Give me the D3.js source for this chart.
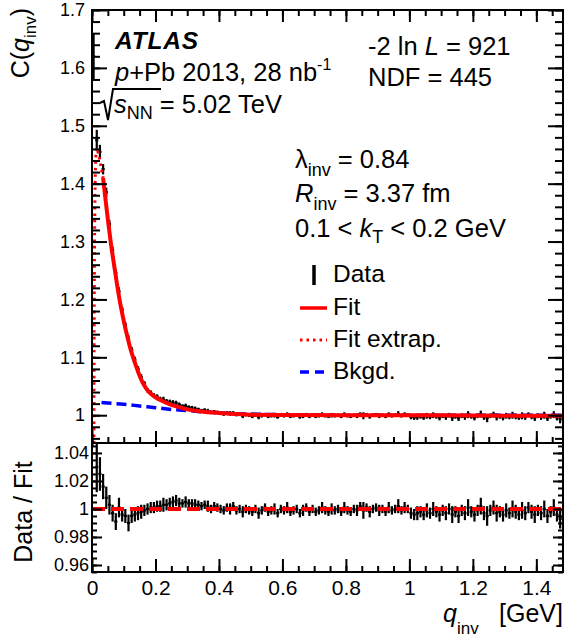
<!DOCTYPE html>
<html>
<head>
<meta charset="utf-8">
<script src="https://cdn.jsdelivr.net/npm/d3@7.9.0/dist/d3.min.js"></script>
<style>
  body { margin: 0; background: #fff; }
  text { font-family: "Liberation Sans", Arial, Helvetica, sans-serif; fill: #000; }
</style>
</head>
<body>
<svg id="chart" width="565" height="639"></svg>
<script>
// --- data (bins of 0.01 GeV starting at q = 0) ---
const binWidth = 0.01;
const nBins = 149;

// correlation function C(q_inv), one value per bin
const cData = [
  1.620,1.475,1.455,1.425,1.385,1.330,1.285,1.246,1.214,1.182,
  1.156,1.132,1.113,1.096,1.080,1.066,1.055,1.043,1.039,1.034,
  1.032,1.028,1.027,1.024,1.023,1.022,1.021,1.018,1.016,1.016,
  1.014,1.013,1.011,1.010,1.008,1.009,1.007,1.005,1.006,1.005,
  1.004,1.002,1.004,1.003,1.004,1.001,1.002,0.999,1.001,1.000,
  0.998,1.000,0.997,0.999,1.001,0.998,0.999,1.000,0.997,1.000,
  0.999,1.001,0.998,0.999,1.000,0.997,0.999,1.001,0.998,1.000,
  0.998,0.999,1.001,0.999,0.998,1.000,0.999,1.000,0.998,1.001,
  0.999,0.998,1.000,0.999,1.002,0.999,1.001,0.998,1.000,1.001,
  0.999,1.000,0.998,1.001,0.999,1.000,1.002,0.999,1.001,1.000,
  0.997,0.996,0.997,0.998,0.996,0.999,0.997,1.000,0.998,0.996,
  0.999,0.997,1.000,0.996,0.998,0.995,0.999,0.997,1.001,0.998,
  0.996,0.999,1.002,0.997,0.995,0.999,1.001,0.997,0.998,0.996,
  0.999,0.997,1.000,0.998,0.996,0.999,0.997,1.001,0.998,0.996,
  0.999,0.997,1.000,0.995,0.998,1.001,0.996,0.993,0.998
];

// Data / Fit ratio, same bins (first bin not shown)
const ratioData = [
  null, 1.030,1.025,1.016,1.008,1.003,0.997,0.991,1.001,0.996,
  0.995,0.990,0.995,0.996,0.997,0.998,0.999,1.000,1.001,1.001,
  1.002,1.002,1.003,1.003,1.004,1.005,1.006,1.004,1.004,1.005,
  1.004,1.004,1.003,1.003,1.002,1.003,1.002,1.000,1.002,1.001,
  1.000,0.999,1.001,1.000,1.002,0.999,1.000,0.998,1.000,0.999,
  0.998,1.000,0.997,0.999,1.001,0.998,0.999,1.000,0.997,1.000,
  0.999,1.001,0.998,0.999,1.000,0.997,0.999,1.001,0.998,1.000,
  0.998,0.999,1.001,0.999,0.998,1.000,0.999,1.000,0.998,1.001,
  0.999,0.998,1.000,0.999,1.002,0.999,1.001,0.998,1.000,1.001,
  0.999,1.000,0.998,1.001,0.999,1.000,1.002,0.999,1.001,1.000,
  0.997,0.996,0.997,0.998,0.996,0.999,0.997,1.000,0.998,0.996,
  0.999,0.997,1.000,0.996,0.998,0.995,0.999,0.997,1.001,0.998,
  0.996,0.999,1.002,0.997,0.995,0.999,1.001,0.997,0.998,0.996,
  0.999,0.997,1.000,0.998,0.996,0.999,0.997,1.001,0.998,0.996,
  0.999,0.997,1.000,0.995,0.998,1.001,0.996,0.993,0.998
];

// statistical errors per bin
const errData = [
  0.040,0.018,0.012,0.009,0.008,0.007,0.006,0.006,0.007,0.005,
  0.005,0.006,0.005,0.005,0.005,0.005,0.004,0.004,0.004,0.004,
  0.004,0.004,0.005,0.004,0.004,0.004,0.004,0.004,0.003,0.004,
  0.003,0.003,0.004,0.003,0.003,0.003,0.004,0.003,0.003,0.003,
  0.003,0.003,0.003,0.004,0.003,0.003,0.003,0.004,0.003,0.003,
  0.003,0.003,0.004,0.003,0.003,0.003,0.003,0.004,0.003,0.003,
  0.003,0.004,0.003,0.003,0.003,0.003,0.004,0.003,0.003,0.003,
  0.003,0.003,0.004,0.003,0.003,0.004,0.003,0.003,0.003,0.004,
  0.003,0.003,0.003,0.004,0.003,0.006,0.003,0.004,0.003,0.003,
  0.004,0.003,0.003,0.004,0.003,0.003,0.005,0.003,0.004,0.003,
  0.004,0.004,0.005,0.004,0.004,0.005,0.004,0.005,0.004,0.005,
  0.004,0.005,0.004,0.006,0.004,0.005,0.004,0.005,0.006,0.004,
  0.005,0.004,0.006,0.005,0.007,0.004,0.005,0.006,0.004,0.005,
  0.005,0.004,0.006,0.005,0.004,0.006,0.005,0.004,0.005,0.006,
  0.004,0.005,0.006,0.005,0.004,0.006,0.005,0.007,0.005
];

// fit curve (solid), fit extrapolation (dotted), background (dashed)
const fitQ = [0.035,0.04,0.05,0.06,0.07,0.08,0.09,0.10,0.11,0.12,0.13,0.14,0.15,0.16,0.17,0.18,0.20,0.22,0.25,0.28,0.30,0.35,0.40,0.45,0.50,0.60,0.80,1.00,1.20,1.485];
const fitC = [1.410,1.385,1.338,1.295,1.258,1.222,1.190,1.163,1.139,1.117,1.099,1.083,1.068,1.056,1.047,1.040,1.031,1.025,1.018,1.013,1.010,1.006,1.004,1.002,1.001,1.0005,1.000,1.000,0.9995,0.999];
const extrapQ = [0.0060,0.0065,0.0075,0.009,0.011,0.013,0.016,0.020,0.025,0.030,0.035];
const extrapC = [0.940,1.100,1.250,1.360,1.430,1.455,1.462,1.452,1.440,1.425,1.410];
const bkgQ = [0.03,0.05,0.10,0.15,0.20,0.25,0.30,0.40,0.50,0.60,0.80,1.00,1.20,1.485];
const bkgC = [1.022,1.021,1.019,1.016,1.013,1.010,1.008,1.004,1.002,1.001,1.000,1.000,1.000,1.000];

// tick labels
const xTicks = [0,0.2,0.4,0.6,0.8,1,1.2,1.4];
const yTopTicks = [1,1.1,1.2,1.3,1.4,1.5,1.6,1.7];
const yBotTicks = [0.96,0.98,1,1.02,1.04];

// --- layout ---
const svg = d3.select("#chart");
const pLeft = 92, pRight = 563, pTop = 10, pMid = 443, pBottom = 572;
const textSize = 25.5, subSize = 18;

const x = d3.scaleLinear().domain([0, 1.484]).range([pLeft, pRight]);
const yTop = d3.scaleLinear().domain([0.952, 1.7]).range([pMid, pTop]);
const yBot = d3.scaleLinear().domain([0.955, 1.0471]).range([pBottom, pMid]);

const defs = svg.append("defs");
defs.append("clipPath").attr("id", "clipTop").append("rect")
    .attr("x", pLeft).attr("y", pTop).attr("width", pRight - pLeft).attr("height", pMid - pTop);
defs.append("clipPath").attr("id", "clipBot").append("rect")
    .attr("x", pLeft).attr("y", pMid).attr("width", pRight - pLeft).attr("height", pBottom - pMid);

const bins = d3.range(nBins).map(i => ({
    lo: i * binWidth, hi: (i + 1) * binWidth, mid: (i + 0.5) * binWidth,
    c: cData[i], r: ratioData[i], e: errData[i]
}));

function drawPoints(g, yScale, key) {
    const pts = bins.filter(d => d[key] != null);
    g.selectAll("line.h").data(pts).join("line").attr("class", "h")
        .attr("x1", d => x(d.lo)).attr("x2", d => x(d.hi))
        .attr("y1", d => yScale(d[key])).attr("y2", d => yScale(d[key]))
        .attr("stroke", "#000").attr("stroke-width", 2.2);
    g.selectAll("line.v").data(pts).join("line").attr("class", "v")
        .attr("x1", d => x(d.mid)).attr("x2", d => x(d.mid))
        .attr("y1", d => yScale(d[key] - d.e)).attr("y2", d => yScale(d[key] + d.e))
        .attr("stroke", "#000").attr("stroke-width", 2.2);
}

// top panel
const gTop = svg.append("g").attr("clip-path", "url(#clipTop)");
drawPoints(gTop.append("g"), yTop, "c");

const lineTop = (qs, cs) => d3.line().curve(d3.curveMonotoneX)
    .x(i => x(qs[i])).y(i => yTop(cs[i]))(d3.range(qs.length));

gTop.append("path").attr("d", lineTop(bkgQ, bkgC))
    .attr("fill", "none").attr("stroke", "#0000ff").attr("stroke-width", 3.5)
    .attr("stroke-dasharray", "10,5");
gTop.append("path").attr("d", lineTop(fitQ, fitC))
    .attr("fill", "none").attr("stroke", "#ff0000").attr("stroke-width", 4);
gTop.append("path").attr("d", lineTop(extrapQ, extrapC))
    .attr("fill", "none").attr("stroke", "#ff0000").attr("stroke-width", 3)
    .attr("stroke-dasharray", "2.5,4");

// bottom panel
const gBot = svg.append("g").attr("clip-path", "url(#clipBot)");
drawPoints(gBot.append("g"), yBot, "r");
gBot.append("line")
    .attr("x1", x(0)).attr("x2", x(1.484)).attr("y1", yBot(1)).attr("y2", yBot(1))
    .attr("stroke", "#ff0000").attr("stroke-width", 4).attr("stroke-dasharray", "13,6");

// --- axes: inward ticks on all four sides ---
const xMinor = d3.range(0, 1.5, 0.05);
const yTopMinor = d3.range(0.96, 1.701, 0.02);
const yBotMinor = d3.range(0.955, 1.046, 0.005);

function addAxis(axis, tx, ty) {
    const g = svg.append("g").attr("transform", `translate(${tx},${ty})`).call(axis);
    g.select(".domain").remove();
    g.selectAll(".tick line").attr("stroke-width", 2);
    return g;
}
const noLab = () => "";

// top panel
addAxis(d3.axisLeft(yTop).tickValues(yTopTicks).tickSize(-15).tickPadding(7).tickFormat(d3.format("")), pLeft, 0)
    .selectAll("text").attr("font-size", 18);
addAxis(d3.axisLeft(yTop).tickValues(yTopMinor).tickSize(-8).tickFormat(noLab), pLeft, 0);
addAxis(d3.axisRight(yTop).tickValues(yTopTicks).tickSize(-15).tickFormat(noLab), pRight, 0);
addAxis(d3.axisRight(yTop).tickValues(yTopMinor).tickSize(-8).tickFormat(noLab), pRight, 0);
addAxis(d3.axisTop(x).tickValues(xTicks).tickSize(-12).tickFormat(noLab), 0, pTop);
addAxis(d3.axisTop(x).tickValues(xMinor).tickSize(-6).tickFormat(noLab), 0, pTop);
addAxis(d3.axisBottom(x).tickValues(xTicks).tickSize(-12).tickFormat(noLab), 0, pMid);
addAxis(d3.axisBottom(x).tickValues(xMinor).tickSize(-6).tickFormat(noLab), 0, pMid);

// bottom panel
addAxis(d3.axisLeft(yBot).tickValues(yBotTicks).tickSize(-10).tickPadding(3).tickFormat(d3.format("")), pLeft, 0)
    .selectAll("text").attr("font-size", 18);
addAxis(d3.axisLeft(yBot).tickValues(yBotMinor).tickSize(-5).tickFormat(noLab), pLeft, 0);
addAxis(d3.axisRight(yBot).tickValues(yBotTicks).tickSize(-10).tickFormat(noLab), pRight, 0);
addAxis(d3.axisRight(yBot).tickValues(yBotMinor).tickSize(-5).tickFormat(noLab), pRight, 0);
addAxis(d3.axisBottom(x).tickValues(xTicks).tickSize(-13).tickPadding(8).tickFormat(d3.format("")), 0, pBottom)
    .selectAll("text").attr("font-size", 21);
addAxis(d3.axisBottom(x).tickValues(xMinor).tickSize(-6).tickFormat(noLab), 0, pBottom);
addAxis(d3.axisTop(x).tickValues(xTicks).tickSize(-4).tickFormat(noLab), 0, pMid);

// frames
svg.append("rect").attr("x", pLeft).attr("y", pTop).attr("width", pRight - pLeft).attr("height", pMid - pTop)
    .attr("fill", "none").attr("stroke", "#000").attr("stroke-width", 2);
svg.append("rect").attr("x", pLeft).attr("y", pMid).attr("width", pRight - pLeft).attr("height", pBottom - pMid)
    .attr("fill", "none").attr("stroke", "#000").attr("stroke-width", 2);

// --- axis titles ---
const yt = svg.append("text").attr("font-size", 25).attr("text-anchor", "end")
    .attr("transform", "translate(29,8) rotate(-90)");
yt.append("tspan").text("C(");
yt.append("tspan").attr("font-style", "italic").text("q");
yt.append("tspan").attr("font-size", 17).attr("dy", 7).text("inv");
yt.append("tspan").attr("dy", -7).text(")");

svg.append("text").attr("font-size", 25).attr("text-anchor", "middle")
    .attr("transform", "translate(32,512) rotate(-90)").text("Data / Fit");

const xt = svg.append("text").attr("font-size", 25).attr("x", 443).attr("y", 622);
xt.append("tspan").attr("font-style", "italic").text("q");
xt.append("tspan").attr("font-size", 17).attr("dy", 12).text("inv");
svg.append("text").attr("font-size", 25).attr("x", 563).attr("y", 622)
    .attr("text-anchor", "end").text("[GeV]");

// --- annotations ---
svg.append("text").attr("x", 115).attr("y", 49).attr("font-size", 24.5)
    .attr("font-weight", "bold").attr("font-style", "italic").attr("letter-spacing", 0.8).text("ATLAS");

const t1 = svg.append("text").attr("x", 115).attr("y", 81).attr("font-size", textSize);
t1.append("tspan").attr("font-style", "italic").text("p");
t1.append("tspan").text("+Pb 2013, 28 nb");
t1.append("tspan").attr("font-size", 16).attr("dy", -11).text("-1");

svg.append("path").attr("d", "M100,103 L104,101 L108,120 L113,89 L161,89")
    .attr("fill", "none").attr("stroke", "#000").attr("stroke-width", 2);
const t2 = svg.append("text").attr("x", 114).attr("y", 113).attr("font-size", textSize);
t2.append("tspan").attr("font-style", "italic").text("s");
t2.append("tspan").attr("font-size", subSize).attr("dy", 6).text("NN");
t2.append("tspan").attr("dy", -6).text(" = 5.02 TeV");

const t3 = svg.append("text").attr("x", 368).attr("y", 55).attr("font-size", textSize);
t3.append("tspan").text("-2 ln ");
t3.append("tspan").attr("font-style", "italic").text("L");
t3.append("tspan").text(" = 921");
svg.append("text").attr("x", 368).attr("y", 86).attr("font-size", textSize).text("NDF = 445");

const t4 = svg.append("text").attr("x", 295).attr("y", 168).attr("font-size", textSize);
t4.append("tspan").text("λ");
t4.append("tspan").attr("font-size", subSize).attr("dy", 8).text("inv");
t4.append("tspan").attr("dy", -8).text(" = 0.84");

const t5 = svg.append("text").attr("x", 295).attr("y", 202).attr("font-size", textSize);
t5.append("tspan").attr("font-style", "italic").text("R");
t5.append("tspan").attr("font-size", subSize).attr("dy", 8).text("inv");
t5.append("tspan").attr("dy", -8).text(" = 3.37 fm");

const t6 = svg.append("text").attr("x", 295).attr("y", 237).attr("font-size", textSize);
t6.append("tspan").text("0.1 < ");
t6.append("tspan").attr("font-style", "italic").text("k");
t6.append("tspan").attr("font-size", subSize).attr("dy", 6).text("T");
t6.append("tspan").attr("dy", -6).text(" < 0.2 GeV");

// --- legend ---
const legend = svg.append("g");
const legItems = ["Data", "Fit", "Fit extrap.", "Bkgd."];
const legY = [282, 315, 347, 379];
legItems.forEach((name, i) => {
    legend.append("text").attr("x", 333).attr("y", legY[i]).attr("font-size", 24.5).text(name);
});
legend.append("line").attr("x1", 314).attr("x2", 314).attr("y1", 265).attr("y2", 285)
    .attr("stroke", "#000").attr("stroke-width", 3.5);
legend.append("line").attr("x1", 300).attr("x2", 327).attr("y1", 308).attr("y2", 308)
    .attr("stroke", "#ff0000").attr("stroke-width", 3.5);
legend.append("line").attr("x1", 300).attr("x2", 327).attr("y1", 340).attr("y2", 340)
    .attr("stroke", "#ff0000").attr("stroke-width", 3).attr("stroke-dasharray", "2.5,4");
legend.append("line").attr("x1", 300).attr("x2", 327).attr("y1", 372).attr("y2", 372)
    .attr("stroke", "#0000ff").attr("stroke-width", 3.5).attr("stroke-dasharray", "9,6");
</script>
</body>
</html>
